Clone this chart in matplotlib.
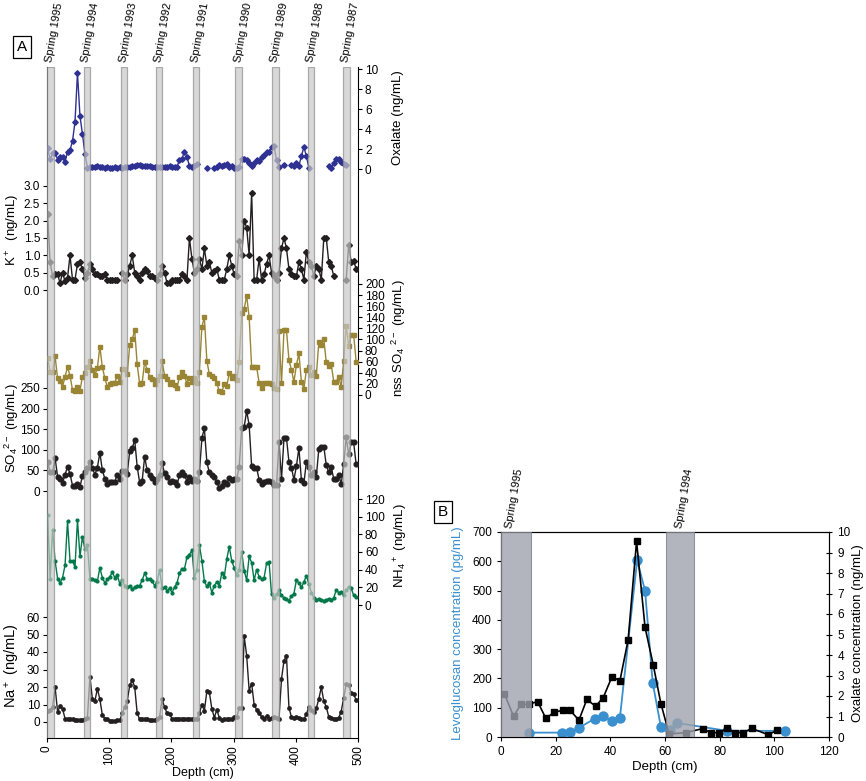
import matplotlib
matplotlib.use('Agg')
import matplotlib.pyplot as plt
import matplotlib.transforms as mtransforms
import numpy as np

plt.rcParams['font.family'] = ['Liberation Sans', 'DejaVu Sans']
plt.rcParams['mathtext.default'] = 'regular'

nan = np.nan

# ---------------- panel A data (ice core depth profiles) ----------------
depth = [1, 5, 9, 13, 17, 21, 25, 29, 33, 37,
         41, 45, 49, 53, 57, 61, 65, 69, 73, 77,
         81, 85, 89, 93, 97, 101, 105, 109, 113, 117,
         121, 125, 129, 133, 137, 141, 145, 149, 153, 157,
         161, 165, 169, 173, 177, 181, 185, 189, 193, 197,
         201, 205, 209, 213, 217, 221, 225, 229, 233, 237,
         241, 245, 249, 253, 257, 261, 265, 269, 273, 277,
         281, 285, 289, 293, 297, 301, 305, 309, 313, 317,
         321, 325, 329, 333, 337, 341, 345, 349, 353, 357,
         361, 365, 369, 373, 377, 381, 385, 389, 393, 397,
         401, 405, 409, 413, 417, 421, 425, 429, 433, 437,
         441, 445, 449, 453, 457, 461, 465, 469, 473, 477,
         481, 485, 489, 493, 497]

oxalate = [2.07, 0.97, 1.57, 1.63, 0.95, 1.2, 1.2, 0.75, 1.7, 1.9,
           2.8, 4.7, 9.6, 5.3, 3.5, 1.5, 0.15, 0.2, 0.25, 0.2,
           0.3, 0.2, 0.25, 0.1, 0.2, 0.15, 0.1, 0.2, 0.15, 0.2,
           0.15, 0.2, 0.2, 0.25, 0.3, 0.35, 0.4, 0.4, 0.35, 0.35,
           0.3, 0.3, 0.2, 0.2, 0.25, 0.25, 0.2, 0.2, 0.2, 0.3,
           0.25, 0.2, 0.25, 0.9, 1.0, 1.75, 1.2, 0.3, 0.25, 0.3,
           0.5, nan, nan, nan, 0.15, nan, nan, 0.15, 0.25, 0.4,
           0.3, 0.45, 0.55, 0.2, 0.3, 0.1, 0.15, 0.2, 1.0, 1.0,
           0.9, 0.6, 0.35, 0.6, 0.95, 0.8, 1.2, 1.4, 1.7, 1.75,
           2.2, 2.3, 0.9, 0.2, nan, 0.4, nan, nan, 0.4, 0.3,
           0.6, 0.3, 1.3, 2.2, 1.3, 0.1, nan, nan, nan, nan,
           nan, nan, nan, 0.3, 0.1, 0.6, 1.0, 1.0, 0.7, 0.55,
           0.4, nan, nan, nan, nan]

potassium = [2.2, 0.8, 0.4, 0.45, 0.45, 0.2, 0.5, 0.25, 0.35, 1.0,
             0.3, 0.3, 0.75, 0.8, 0.6, 0.35, 0.5, 0.75, 0.6, 0.45,
             0.45, 0.4, 0.4, 0.45, 0.3, 0.3, 0.3, 0.3, 0.3, nan,
             0.5, 0.3, 0.45, 0.7, 1.0, 0.5, 0.4, 0.3, 0.5, 0.6,
             0.55, 0.4, 0.4, 0.35, 0.3, 0.45, 0.7, 0.5, 0.2, 0.2,
             0.3, 0.3, 0.3, 0.3, 0.45, 0.4, 0.3, 1.5, 0.9, 0.5,
             0.6, 0.9, 0.6, 1.2, 0.7, 0.8, 0.5, 0.55, 0.6, 0.3,
             0.3, 0.3, 0.6, 1.0, 0.7, 0.45, 0.4, 1.4, 1.0, 2.0,
             1.8, 1.0, 2.8, 0.3, 0.3, 0.9, 0.3, 0.45, 0.75, 1.0,
             0.5, 0.4, 0.3, 0.5, 1.2, 1.5, 1.2, 0.6, 0.45, 0.4,
             0.4, 0.8, 0.6, 0.3, 1.1, 0.8, 0.7, 0.4, 0.7, 0.6,
             0.3, 1.5, 1.5, 0.8, 0.7, 0.4, nan, nan, nan, nan,
             0.3, 1.3, 0.8, 0.85, 0.6]

nss_sulfate = [67, 41, 41, 70, 30, 25, 15, 33, 50, 35,
               9, 7, 14, 8, 33, 40, 50, 62, 45, 36,
               49, 87, 50, 30, 15, 20, 21, 22, 35, 23,
               47, 47, 38, 90, 100, 117, 55, 20, 22, 60,
               45, 33, 29, 20, 27, 34, 61, 35, 28, 20,
               23, 18, 13, 33, 42, 35, 20, 31, 24, 30,
               22, 42, 123, 140, 62, 37, 34, 30, 21, 7,
               5, 20, 16, 39, 30, 35, 27, 60, 147, 155,
               179, 140, 50, 51, 51, 22, 12, 21, 22, 22,
               19, 13, 11, 115, 21, 117, 117, 63, 45, 24,
               54, 75, 24, 11, 45, 51, 36, 42, 35, 95,
               90, 101, 59, 52, 55, 24, 24, 33, 15, 61,
               125, 89, 109, 109, 60]

sulfate = [70, 45, 45, 80, 35, 28, 20, 40, 58, 42,
           13, 13, 17, 10, 37, 45, 55, 70, 55, 40,
           57, 93, 50, 30, 16, 21, 22, 23, 40, 28,
           49, 49, 42, 97, 104, 124, 59, 20, 25, 83,
           50, 40, 31, 21, 28, 40, 67, 43, 35, 23,
           25, 21, 15, 39, 47, 40, 23, 35, 25, 29,
           25, 45, 128, 152, 70, 45, 40, 35, 21, 8,
           11, 21, 17, 32, 27, 29, 29, 59, 152, 156,
           194, 160, 60, 57, 57, 27, 16, 23, 25, 25,
           23, 15, 14, 118, 29, 128, 129, 70, 57, 27,
           61, 104, 27, 19, 70, 59, 40, 45, 35, 102,
           108, 108, 63, 45, 58, 29, 29, 40, 16, 65,
           130, 89, 118, 118, 65]

ammonium = [102, 30, 85, 50, 30, 25, 31, 45, 95, 50,
            50, 43, 96, 55, 77, 63, 68, 30, 30, 28,
            27, 42, 31, 25, 29, 32, 37, 31, 34, 24,
            28, 22, 20, 22, 18, 20, 21, 22, 28, 36,
            30, 29, 27, 22, 26, 40, 19, 20, 16, 19,
            14, 20, 25, 36, 41, 41, 54, 57, 62, 31,
            40, 68, 50, 27, 21, 25, 14, 22, 26, 22,
            36, 32, 52, 66, 50, 42, 34, 40, 60, 39,
            28, 55, 48, 28, 40, 32, 29, 31, 47, 49,
            12, 8, 12, 17, 11, 8, 7, 5, 10, 13,
            28, 25, 20, 26, 33, 24, 14, 8, 6, 7,
            6, 5, 6, 7, 6, 8, 17, 14, 15, 11,
            17, 20, 19, 11, 9]

sodium = [6.5, 7, 8.5, 20, 6, 9, 7.5, 2, 2, 1.5,
          1.5, 1.2, 1, 1, 1, 2, 2.5, 26, 13, 12,
          19, 13, 4, 2, 1.5, 0.8, 0.8, 0.8, 1, 1,
          5, 8.5, 12, 21, 24, 20, 5, 1.5, 2, 1.5,
          1.5, 1, 1, 1, 2, 3, 13, 8.5, 5, 4.5,
          2, 2, 2, 2, 2, 2, 2, 2, 2, 2,
          2, 5, 10, 6.5, 17.5, 17, 7.6, 2.5, 7, 2.5,
          1, 2, 1.5, 2, 2, 3, 3, 8, 8, 49,
          38, 18, 22, 10, 7, 5, 3, 2, 3.2, 2,
          2.5, 3, 2.5, 2, 24.6, 35, 38, 8, 3, 2.5,
          3, 2.5, 2, 1.5, 4.5, 8.5, 7, 5.7, 8, 13,
          20, 12, 8.5, 3, 2.5, 2, 1.5, 2.5, 6, 13.8,
          21.5, 21, 16.5, 16, 12.5]

springs_a = [(0, 12), (59, 69), (119, 129), (175, 185), (234, 245),
             (303, 314), (362, 373), (420, 430), (476, 487)]
spring_names = ['Spring 1995', 'Spring 1994', 'Spring 1993', 'Spring 1992',
                'Spring 1991', 'Spring 1990', 'Spring 1989', 'Spring 1988',
                'Spring 1987']

# ---------------- panel B data ----------------
b_oxa_depth = [1.2, 4.6, 7.3, 10.2, 13.4, 16.4, 19.5, 22.5, 25.3, 28.5, 31.4,
               34.6, 37.4, 40.6, 43.5, 46.5, 49.6, 52.7, 55.7, 58.5, 61.5,
               67.5, 73.8, 76.7, 79.8, 82.7, 85.6, 88.5, 91.7, 97.8, 101.0]
b_oxa = [2.12, 1.01, 1.6, 1.6, 1.73, 0.91, 1.21, 1.3, 1.3, 0.82, 1.83,
         1.5, 1.92, 2.94, 2.74, 4.73, 9.54, 5.35, 3.52, 1.63, 0.15,
         0.21, 0.41, 0.21, 0.21, 0.42, 0.21, 0.21, 0.42, 0.11, 0.33]
b_levo_depth = [10.2, 22.4, 25.4, 28.5, 34.3, 37.4, 40.6, 43.5, 49.8, 52.7,
                55.5, 58.5, 61.8, 64.4, 82.7, 104.0]
b_levo = [15, 15, 17, 31, 63, 71, 54, 66, 603, 500, 185, 34, 25, 48, 21, 21]
springs_b = [(0, 11), (60.5, 70.5)]

W, H = 866, 781
fig = plt.figure(figsize=(W / 100, H / 100), dpi=100)


def rect(x0, y0, x1, y1):
    return [x0 / W, 1 - y1 / H, (x1 - x0) / W, (y1 - y0) / H]


def flabel(x, y, s, rot=90, **kw):
    fig.text(x / W, 1 - y / H, s, rotation=rot, ha='center', va='center', **kw)


A_TOP, A_BOT = 67, 738
rect_a = rect(47, A_TOP, 358, A_BOT)
black = '#231f20'
fs = 8.5

base = fig.add_axes(rect_a)
base.set_xlim(0, 500)
base.set_ylim(0, 1)
base.set_yticks([])
base.spines['top'].set_visible(False)
base.set_xticks([0, 100, 200, 300, 400, 500])
base.tick_params(axis='x', labelsize=fs, rotation=90, direction='out', length=3, pad=2)
flabel(203, 773, 'Depth (cm)', rot=0, fontsize=9)


def stacked(v0, p0, v1, p1, side, ticks, fmt):
    ax = fig.add_axes(rect_a, sharex=base)
    ax.patch.set_visible(False)
    for sp in ax.spines.values():
        sp.set_visible(False)
    s = (p0 - p1) / (v1 - v0)
    ax.set_ylim(v0 - (A_BOT - p0) / s, v0 + (p0 - A_TOP) / s)
    ax.tick_params(axis='x', bottom=False, labelbottom=False)
    ax.yaxis.set_ticks_position(side)
    ax.set_yticks(ticks)
    ax.set_yticklabels([fmt % t for t in ticks])
    ax.tick_params(axis='y', labelsize=fs, direction='out', length=3, pad=2)
    return ax


ax1 = stacked(0, 169, 10, 69, 'right', [0, 2, 4, 6, 8, 10], '%d')
ax1.plot(depth, oxalate, '-D', color='#2e3192', ms=2.8, lw=1)

ax2 = stacked(0, 290, 3, 186, 'left', [0, 0.5, 1, 1.5, 2, 2.5, 3], '%.1f')
ax2.plot(depth, potassium, '-D', color=black, ms=3, lw=1)

ax3 = stacked(0, 395, 200, 284, 'right', list(range(0, 201, 20)), '%d')
ax3.plot(depth, nss_sulfate, '-s', color='#9a8535', ms=2.6, lw=1)

ax4 = stacked(0, 491, 250, 388, 'left', [0, 50, 100, 150, 200, 250], '%d')
ax4.plot(depth, sulfate, '-o', color=black, ms=3.4, lw=1)

ax5 = stacked(0, 605, 120, 499, 'right', [0, 20, 40, 60, 80, 100, 120], '%d')
ax5.plot(depth, ammonium, '-o', color='#00784a', ms=2, lw=1)

ax6 = stacked(0, 722, 60, 617, 'left', [0, 10, 20, 30, 40, 50, 60], '%d')
ax6.plot(depth, sodium, '-o', color=black, ms=2.4, lw=1)

# spring bands drawn on top so the data inside them looks greyed
bands = fig.add_axes(rect_a, sharex=base)
bands.patch.set_visible(False)
bands.axis('off')
for x0, x1 in springs_a:
    bands.axvspan(x0, x1, facecolor='#c8c8c8', edgecolor='#8c8c8c', lw=0.9, alpha=0.7)
trans = mtransforms.blended_transform_factory(bands.transData, bands.transAxes)
for (x0, x1), name in zip(springs_a, spring_names):
    bands.text((x0 + x1) / 2 - 2, 1.008, name, transform=trans, rotation=80,
               rotation_mode='anchor', ha='left', va='center', fontsize=8)

# y labels of the stacked axes
flabel(398, 118, 'Oxalate (ng/mL)', fontsize=9.5)
flabel(13, 230, 'K$^+$  (ng/mL)', fontsize=9.5)
flabel(399, 338, 'nss SO$_4$ $^{2-}$ (ng/mL)', fontsize=9.5)
flabel(12, 428, 'SO$_4$$^{2-}$ (ng/mL)', fontsize=9.5)
flabel(401, 546, 'NH$_4$$^+$ (ng/mL)', fontsize=9.5)
flabel(12, 666, 'Na$^+$ (ng/mL)', fontsize=10.5)

fig.text(22 / W, 1 - 47 / H, 'A', fontsize=11, ha='center', va='center',
         bbox=dict(boxstyle='square,pad=0.25', fc='white', ec='black', lw=0.9))

# ---------------- panel B ----------------
rect_b = rect(501, 532, 829, 737)
axb = fig.add_axes(rect_b)
axb.set_xlim(0, 120)
axb.set_ylim(0, 700)
axb.set_xticks(range(0, 121, 20))
axb.set_yticks(range(0, 701, 100))
axb.tick_params(labelsize=fs, direction='out', length=3)
axb.set_xlabel('Depth (cm)', fontsize=9.5, labelpad=2)
axb.plot(b_levo_depth, b_levo, '-o', color='#3a8fcf', ms=6.5, lw=1.3, zorder=2)
flabel(458, 633, 'Levoglucosan concentration (pg/mL)', fontsize=9.5, color='#3a8fcf')

axb2 = axb.twinx()
axb2.set_ylim(0, 10)
axb2.set_yticks(range(0, 11))
axb2.tick_params(labelsize=fs, direction='inout', length=5)
axb2.plot(b_oxa_depth, b_oxa, '-s', color='black', ms=4, lw=1.2, zorder=3)
for x0, x1 in springs_b:
    axb2.axvspan(x0, x1, facecolor='#9fa3ad', edgecolor='#7c808a', lw=0.8,
                 alpha=0.8, zorder=4)
transb = mtransforms.blended_transform_factory(axb2.transData, axb2.transAxes)
for xc, name in [(3, 'Spring 1995'), (65, 'Spring 1994')]:
    axb2.text(xc, 1.02, name, transform=transb, rotation=80,
              rotation_mode='anchor', ha='left', va='center', fontsize=8)
flabel(858, 633, 'Oxalate concentration (ng/mL)', fontsize=9.5)

fig.text(443 / W, 1 - 512 / H, 'B', fontsize=11, ha='center', va='center',
         bbox=dict(boxstyle='square,pad=0.25', fc='white', ec='black', lw=0.9))

fig.savefig('out.png', dpi=100)
